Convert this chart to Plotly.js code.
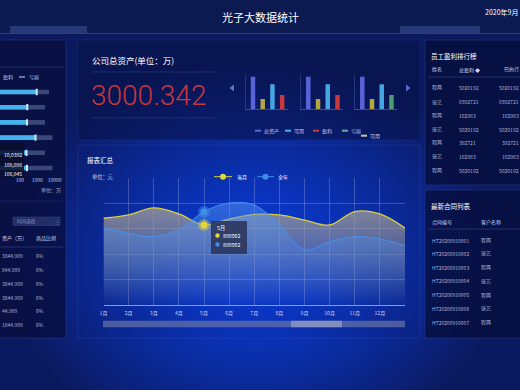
<!DOCTYPE html>
<html><head><meta charset="utf-8">
<script src="https://cdn.plot.ly/plotly-3.0.1.min.js"></script>
<style>
html,body{margin:0;padding:0;width:520px;height:390px;overflow:hidden;background:#0b1a5c;}
#chart{width:520px;height:390px;
background: radial-gradient(ellipse 250px 200px at 255px 258px, #0a40de 0%, #0a37c6 30%, #0a2b9c 60%, #0b2076 85%, #0b1a5e 100%), #0b1a5e;}
</style></head><body><div id="chart"></div>
<script>
// ---------------- data ----------------
const months = ['1月','2月','3月','4月','5月','6月','7月','8月','9月','10月','11月','12月'];
const monthPos = [1,2,3,4,5,6,7,8,9,10,11,12,13];
const curMonth = [683,709,764,717,630,677,713,709,669,630,736,717,606];
const fullYear = [609,567,538,591,735,803,787,630,433,498,538,520,467];
const seriesNames = ['当月','全年'];
const hoverIdx = 4;
const hoverValues = ['800992','800992'];

const assetCats = [0,1,2,3];
const assetValues = [95,30,73,42];
const assetLegend = ['总资产','可用','盈利','亏损','可用'];
const totalAssets = '3000.342';

const profitRows = [0,1,2,3,4,5];
const profitTotal = [4700,2780,2780,7480,2780,7480];
const profitValue = [924,266,256,789,240,256];
const profitTicks = [100,1000,10000];
const profitLegend = ['盈利','亏损'];
const profitTip = ['10,0392','100,098','108,045'];

const assetTable = ['3844.909','844.909','3844.909','3844.909','44.909','1844.909'];
const ratioTable = ['6%','6%','6%','6%','6%','6%'];

const staffNames = ['程两','张艺','程两','张艺','程两','张艺','程两'];
const staffProfit = ['5020192','0392721','102983','5020192','392721','102983','5020192'];
const staffExec = ['5020192','0392721','102983','5020192','392721','102983','5020192'];

const contractIds = ['HT20200910001','HT20200910002','HT20200910003','HT20200910004','HT20200910005','HT20200910006','HT20200910007'];
const contractClients = ['程两','张艺','程两','张艺','程两','张艺','程两'];

// ---------------- helpers ----------------
const W = 520, H = 390;
const fx = p => p / W;
const fy = p => 1 - p / H;
const FONT = '"Noto Sans CJK SC", "Noto Sans", sans-serif';
const TXT = '#c3cbea';

const shapes = [];
const ann = [];
function rect(x0,y0,x1,y1,fill,line,layer){
  shapes.push({type:'rect',xref:'paper',yref:'paper',x0:fx(x0),x1:fx(x1),y0:fy(y1),y1:fy(y0),
    fillcolor:fill,line:line||{width:0},layer:layer||'below'});
}
function hline(x0,x1,y,color,width,layer){
  shapes.push({type:'line',xref:'paper',yref:'paper',x0:fx(x0),x1:fx(x1),y0:fy(y),y1:fy(y),
    line:{color:color,width:width||1},layer:layer||'below'});
}
function circ(cx,cy,r,fill,layer){
  shapes.push({type:'circle',xref:'paper',yref:'paper',x0:fx(cx-r),x1:fx(cx+r),y0:fy(cy+r),y1:fy(cy-r),
    fillcolor:fill,line:{width:0},layer:layer||'above'});
}
function poly(pts,fill){
  const d = pts.map((p,i)=>(i?'L':'M')+fx(p[0]).toFixed(5)+','+fy(p[1]).toFixed(5)).join(' ')+' Z';
  shapes.push({type:'path',xref:'paper',yref:'paper',path:d,fillcolor:fill,line:{width:0},layer:'above'});
}
function txt(x,y,text,size,color,anchor,extra){
  ann.push(Object.assign({xref:'paper',yref:'paper',x:fx(x),y:fy(y),text:text,showarrow:false,
    xanchor:anchor||'left',yanchor:'middle',borderpad:0,font:{size:size,color:color||TXT,family:FONT}},extra||{}));
}

// ---------------- panels / background ----------------
rect(0,0,520,33,'#0c1a52');
hline(0,520,33.5,'rgba(50,70,150,0.8)',1);
rect(10,26,87,33,'rgba(95,115,185,0.35)');
rect(400,26,480,33,'rgba(95,115,185,0.35)');
rect(-2,40,66,338,'rgba(7,13,58,0.72)',{color:'rgba(40,60,140,0.5)',width:1});
hline(0,63,67,'rgba(60,80,160,0.55)',0.8);
hline(0,63,201,'rgba(40,60,140,0.5)',0.8);
rect(78,40,420,140,'rgba(8,16,68,0.5)',{color:'rgba(40,60,150,0.3)',width:1});
rect(78,145,420,338,'rgba(10,30,120,0.08)',{color:'rgba(60,90,190,0.25)',width:1});
rect(425,40,522,185,'rgba(7,13,58,0.75)',{color:'rgba(40,60,140,0.5)',width:1});
rect(425,190,522,338,'rgba(7,13,58,0.75)',{color:'rgba(40,60,140,0.5)',width:1});

// header texts
txt(260,17,'光子大数据统计',11,'#ffffff','center');
txt(484,12,'2020年9月',7,'#ffffff','left');

// ---------------- center top panel ----------------
txt(91,60,'公司总资产(单位：万)',8.5,'#ffffff','left');
hline(92,215,72,'rgba(70,90,170,0.45)',0.8);
hline(92,215,118,'rgba(70,90,170,0.45)',0.8);
txt(90,95,totalAssets,28,'#c8363e','left',{font:{size:28,color:'#c8363e',family:'Roboto, "Noto Sans", sans-serif',weight:300}});
poly([[234,84.5],[229.5,88],[234,91.5]],'#6676b8');
poly([[406,84.5],[410.5,88],[406,91.5]],'#5a6ad4');
const legendColors = ['#5a66dc','#4fb0ee','#d23a3a','#6aa8a0','#c8c8a0'];
const legPos = [[255,130.7],[285,130.7],[313,130.7],[342,130.7],[361,135.7]];
assetLegend.forEach((n,i)=>{
  const [lx,ly] = legPos[i];
  hline(lx,lx+6,ly,legendColors[i],2,'above');
  txt(lx+8,ly,n,5,'#c3cbea','left');
});

// ---------------- main chart panel ----------------
txt(86,160,'报表汇总',6.5,'#ffffff','left');
txt(91,177,'单位：元',5.2,'#d0d8f2','left');
hline(214,232,176.7,'#d9cf3b',1,'above'); circ(223,176.7,3,'#e2d63a');
txt(236,176.7,seriesNames[0],5,'#ffffff','left');
hline(257,274,176.7,'#3f8fea',1,'above'); circ(265.5,176.7,3,'#3f8fea');
txt(277,176.7,seriesNames[1],5,'#ffffff','left');
rect(211,221,247,254,'rgba(42,52,92,0.88)',{width:0},'above');
txt(215.5,227.5,months[hoverIdx],5.2,'#ffffff','left');
circ(217.5,235.5,2.2,'#e2d63a'); txt(221.5,235.5,hoverValues[0],5.2,'#ffffff','left');
circ(217.5,244.5,2.2,'#3f8fea'); txt(221.5,244.5,hoverValues[1],5.2,'#ffffff','left');
rect(103,320.7,405,327.3,'rgba(120,128,168,0.6)',{width:0},'above');
rect(291,320.7,342,327.3,'rgba(175,180,205,0.55)',{width:0},'above');

// ---------------- left panel ----------------
txt(2,77,profitLegend[0],5,'#c3cbea','left');
hline(19,25,77,'#9fc4ee',1.2,'above');
txt(28,77,profitLegend[1],5,'#c3cbea','left');
rect(-3,143,24,178,'rgba(10,14,44,0.88)',{width:0},'above');
profitTip.forEach((t,i)=>txt(23,155+i*9,t,5,'#ffffff','right'));
txt(62,190,'单位：万',5,'#aab4d8','right');
rect(13,217,60,225.5,'rgba(38,52,108,0.85)',{color:'rgba(80,100,170,0.6)',width:0.5});
txt(16,221.3,'时间选择',4.6,'#8896c8','left');
txt(57,221.3,'÷',5,'#8896c8','center');
txt(0.5,238,'资产（万）',5,'#d0d8f2','left');
txt(35,238,'商品比例',5,'#d0d8f2','left');
hline(0,63,247,'rgba(70,90,170,0.55)',0.8);
const leftRowY = [255,269,283,297,310,324];
assetTable.forEach((v,i)=>{ txt(0.5,leftRowY[i],v,5,'#aeb8dc','left'); txt(35,leftRowY[i],ratioTable[i],5,'#aeb8dc','left'); });

// ---------------- right panels ----------------
txt(430,56,'员工盈利排行榜',6.5,'#ffffff','left');
txt(431,69,'姓名',5,'#d0d8f2','left');
txt(458,69,'总盈利 ◆',5,'#d0d8f2','left');
txt(503,69,'已执行',5,'#d0d8f2','left');
hline(428,522,77,'rgba(70,90,170,0.55)',0.8);
const staffY = [87.3,101.7,115,129.3,142.3,156,170];
staffNames.forEach((n,i)=>{
  txt(431,staffY[i],n,5,'#aeb8dc','left');
  txt(458,staffY[i],staffProfit[i],5,'#aeb8dc','left');
  txt(519.5,staffY[i],staffExec[i],5,'#aeb8dc','right');
});
txt(430,206,'最新合同列表',6.5,'#ffffff','left');
txt(431,222,'合同编号',5,'#d0d8f2','left');
txt(480,222,'客户名称',5,'#d0d8f2','left');
hline(428,522,229,'rgba(70,90,170,0.55)',0.8);
const conY = [240,253.3,267.3,280.7,294.7,308,322];
contractIds.forEach((c,i)=>{
  txt(431,conY[i],c,5,'#aeb8dc','left');
  txt(480,conY[i],contractClients[i],5,'#aeb8dc','left');
});

// ---------------- traces ----------------
const traces = [];
traces.push({type:'scatter',mode:'lines',x:monthPos,y:curMonth,name:seriesNames[0],
  line:{color:'#d9cf3b',width:1.3,shape:'spline',smoothing:1},
  fill:'tozeroy',fillgradient:{type:'vertical',start:0,stop:780,
    colorscale:[[0,'rgba(150,148,150,0)'],[0.45,'rgba(158,154,150,0.4)'],[1,'rgba(168,162,150,0.78)']]},
  hoverinfo:'skip'});
traces.push({type:'scatter',mode:'lines',x:monthPos,y:fullYear,name:seriesNames[1],
  line:{color:'#4592ec',width:1,shape:'spline',smoothing:1},
  fill:'tozeroy',fillgradient:{type:'vertical',start:0,stop:800,
    colorscale:[[0,'rgba(70,140,240,0)'],[1,'rgba(85,150,245,0.5)']]},
  hoverinfo:'skip'});
traces.push({type:'scatter',mode:'markers',x:[monthPos[hoverIdx]],y:[fullYear[hoverIdx]],
  marker:{size:12,color:'rgba(63,143,234,0.45)'},hoverinfo:'skip'});
traces.push({type:'scatter',mode:'markers',x:[monthPos[hoverIdx]],y:[fullYear[hoverIdx]],
  marker:{size:7,color:'#3f8fea'},hoverinfo:'skip'});
traces.push({type:'scatter',mode:'markers',x:[monthPos[hoverIdx]],y:[curMonth[hoverIdx]],
  marker:{size:12,color:'rgba(226,214,58,0.4)'},hoverinfo:'skip'});
traces.push({type:'scatter',mode:'markers',x:[monthPos[hoverIdx]],y:[curMonth[hoverIdx]],
  marker:{size:7,color:'#e2d63a'},hoverinfo:'skip'});

const groupColors = [
  ['#5a62da','#b4a63c','#46a6e2','#c8383c'],
  ['#5a62da','#b4a63c','#46a6e2','#c8383c'],
  ['#5a62da','#b4a63c','#46a6e2','#4c9c72']];
groupColors.forEach((cols,g)=>{
  traces.push({type:'bar',x:assetCats,y:assetValues,xaxis:'x'+(g+2),yaxis:'y'+(g+2),
    marker:{color:cols},width:0.46,hoverinfo:'skip'});
});

traces.push({type:'bar',orientation:'h',x:profitTotal,y:profitRows,xaxis:'x5',yaxis:'y5',
  marker:{color:'#3a4878'},width:0.3,hoverinfo:'skip'});
traces.push({type:'bar',orientation:'h',x:profitValue,y:profitRows,xaxis:'x5',yaxis:'y5',
  marker:{color:'#45b2ee'},width:0.3,hoverinfo:'skip'});
traces.push({type:'scatter',mode:'markers',x:profitValue,y:profitRows,xaxis:'x5',yaxis:'y5',
  marker:{symbol:'line-ns',size:4.5,line:{color:'#c8ecff',width:2}},hoverinfo:'skip'});

// ---------------- layout ----------------
const grid = 'rgba(255,255,255,0.2)';
const layout = {
  width:W,height:H,margin:{l:0,r:0,t:0,b:0},
  paper_bgcolor:'rgba(0,0,0,0)',plot_bgcolor:'rgba(0,0,0,0)',
  showlegend:false,barmode:'overlay',
  font:{family:FONT,color:TXT,size:5},
  xaxis:{domain:[fx(103.5),fx(405)],range:[1,13],tickvals:monthPos,ticktext:months.concat(['']),
    showgrid:true,gridcolor:grid,gridwidth:1,zeroline:false,showline:true,linecolor:'rgba(170,185,230,0.8)',
    ticks:'',ticklabelstandoff:3,tickfont:{size:5,color:'#d3daf2'},fixedrange:true},
  yaxis:{domain:[fy(305),fy(178)],range:[0,1000],tickvals:[200,400,600,800],showticklabels:false,
    showgrid:true,gridcolor:grid,zeroline:false,showline:false,fixedrange:true},
  xaxis5:{domain:[0,fx(62)],type:'log',range:[0.856,4.42],tickvals:profitTicks,ticktext:profitTicks.map(String),
    showgrid:false,zeroline:false,showline:false,ticks:'',tickfont:{size:5,color:'#c3cbea'},anchor:'y5'},
  yaxis5:{domain:[fy(175.6),fy(84.4)],range:[5.5,-0.5],showgrid:false,zeroline:false,showticklabels:false,anchor:'x5'},
  shapes:shapes,annotations:ann
};
const gDom = [[245.7,288],[301,343.3],[355,397.3]];
gDom.forEach((d,g)=>{
  layout['xaxis'+(g+2)] = {domain:[fx(d[0]),fx(d[1])],range:[-0.75,3.6],showgrid:false,zeroline:false,
    showticklabels:false,showline:true,linecolor:'rgba(95,115,185,0.7)',linewidth:0.8,anchor:'y'+(g+2)};
  layout['yaxis'+(g+2)] = {domain:[fy(109.3),fy(75)],range:[0,100],showgrid:false,zeroline:false,
    showticklabels:false,showline:true,linecolor:'rgba(70,90,170,0.6)',linewidth:0.8,anchor:'x'+(g+2)};
});

Plotly.newPlot('chart',traces,layout,{staticPlot:true,displayModeBar:false});
</script></body></html>
